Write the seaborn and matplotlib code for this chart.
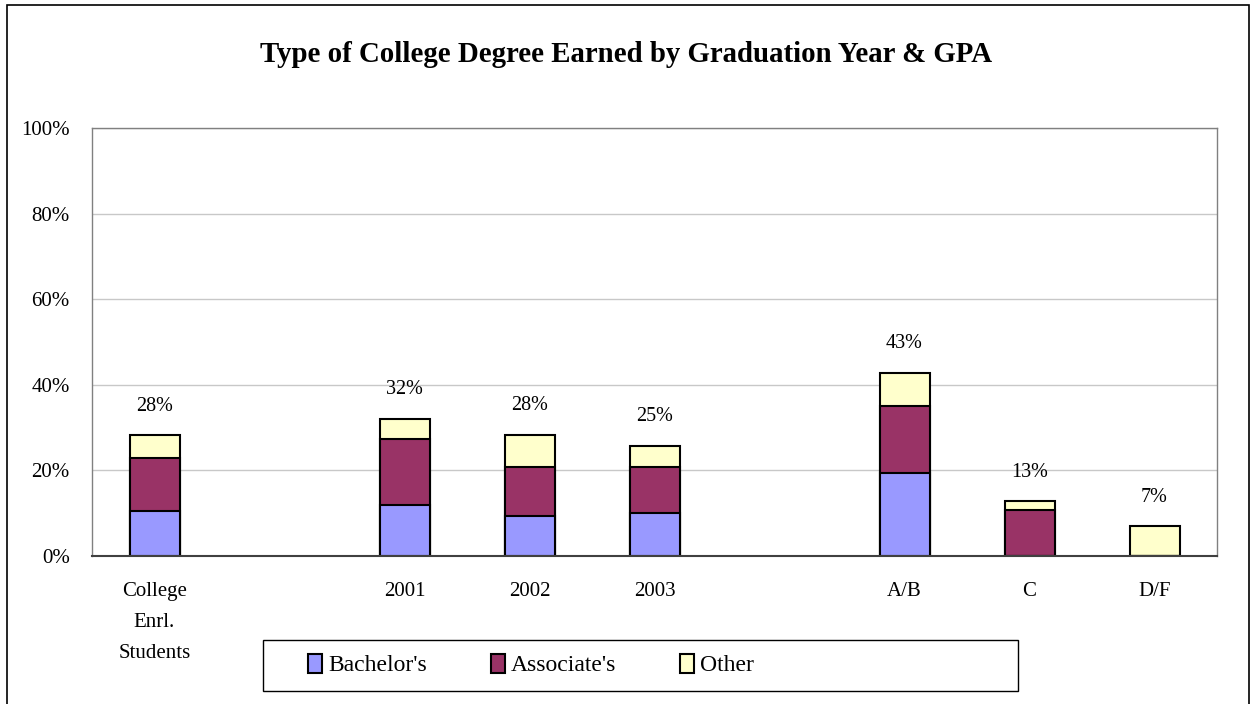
import pandas as pd
import matplotlib.pyplot as plt
import seaborn as sns
from matplotlib.patches import Patch, Rectangle

# Chart data (percent), blank slots keep the gaps between groups
categories = ["College\nEnrl.\nStudents", " ", "2001", "2002", "2003", "  ", "A/B", "C", "D/F"]
bachelors = [10.6, None, 11.9, 9.3, 10.1, None, 19.3, 0.0, 0.0]
associates = [12.3, None, 15.4, 11.6, 10.8, None, 15.7, 10.7, 0.0]
other = [5.3, None, 4.8, 7.4, 4.8, None, 7.8, 2.1, 6.9]
totals = [28, None, 32, 28, 25, None, 43, 13, 7]

colors = {"Bachelor's": "#9999FF", "Associate's": "#993366", "Other": "#FFFFCC"}

df = pd.DataFrame({"group": categories, "bach": bachelors,
                   "assoc": associates, "other": other, "total": totals})
df["lvl1"] = df["bach"]
df["lvl2"] = df["bach"] + df["assoc"]
df["lvl3"] = df["lvl2"] + df["other"]

sns.set_theme(style="white")
plt.rcParams['font.family'] = ['Liberation Serif', 'DejaVu Serif']
plt.rcParams['text.color'] = 'black'
plt.rcParams['xtick.color'] = 'black'
plt.rcParams['ytick.color'] = 'black'

fig = plt.figure(figsize=(12.52, 7.04), dpi=100)
ax = fig.add_axes([92 / 1252, 1 - 556 / 704, 1125 / 1252, 428 / 704])

# stacked look: draw cumulative heights from back to front
for col, name in [("lvl3", "Other"), ("lvl2", "Associate's"), ("lvl1", "Bachelor's")]:
    sns.barplot(data=df, x="group", y=col, order=categories, color=colors[name],
                saturation=1, width=0.4, edgecolor="black", linewidth=1.5, ax=ax,
                errorbar=None)

for i, row in df.iterrows():
    if pd.notna(row["total"]):
        ax.annotate(f"{int(row['total'])}%", (i, row["lvl3"]), xytext=(0, 21),
                    textcoords="offset points", ha="center", va="center", fontsize=14.5)

ax.set_ylim(0, 100)
ax.set_xlim(-0.5, len(categories) - 0.5)
ax.set_yticks([0, 20, 40, 60, 80, 100])
ax.set_yticklabels([f"{t}%" for t in [0, 20, 40, 60, 80, 100]], fontsize=15)
ax.set_xticks(range(len(categories)))
ax.set_xticklabels(categories, fontsize=15, va="top")
for t in ax.get_xticklabels():
    t.set_linespacing(1.85)
ax.tick_params(axis="both", length=0)
ax.tick_params(axis="y", pad=16)
ax.tick_params(axis="x", pad=19)
ax.set_xlabel("")
ax.set_ylabel("")
ax.yaxis.grid(True, color="#C8C8C8", linewidth=1)
ax.set_axisbelow(True)
for side in ["top", "right", "left"]:
    ax.spines[side].set_color("#808080")
    ax.spines[side].set_linewidth(1)
ax.spines["bottom"].set_color("#404040")
ax.spines["bottom"].set_linewidth(1.5)

fig.text(0.5, 1 - 55 / 704, "Type of College Degree Earned by Graduation Year & GPA",
         ha="center", va="center", fontsize=20.8, fontweight="bold")

# legend box and entries
fig.patches.append(Rectangle((263 / 1252, 1 - 691 / 704), 755 / 1252, 51 / 704,
                             transform=fig.transFigure, fill=False,
                             edgecolor="black", linewidth=1))
handles = [Patch(facecolor=c, edgecolor="black", linewidth=1.5) for c in colors.values()]
fig.legend(handles, list(colors.keys()), loc="center left", ncol=3, frameon=False,
           bbox_to_anchor=(287 / 1252, 1 - 665 / 704), fontsize=17,
           handlelength=0.6, handleheight=0.85, handletextpad=0.25, columnspacing=2.7)

# chart area border
fig.patches.append(Rectangle((7 / 1252, -0.1), 1242 / 1252, 1.1 - 5 / 704,
                             transform=fig.transFigure, fill=False,
                             edgecolor="black", linewidth=1.2))

fig.savefig("out.png", dpi=100, facecolor="white")
